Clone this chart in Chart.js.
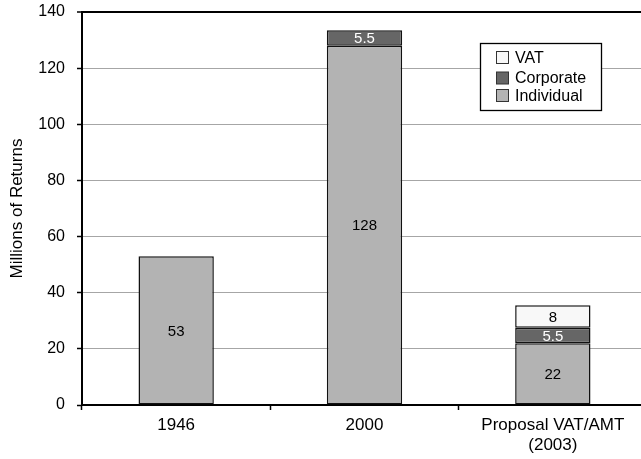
<!DOCTYPE html>
<html>
<head>
<meta charset="utf-8">
<script src="https://cdn.jsdelivr.net/npm/chart.js@4/dist/chart.umd.min.js"></script>
<style>
  html, body { margin: 0; padding: 0; background: #fff; overflow: hidden; }
  #wrap { width: 650px; height: 459px; }
</style>
</head>
<body>
<div id="wrap"><canvas id="c" width="650" height="459"></canvas></div>
<script>
// Number of tax returns filed, in millions
const categories = ['1946', '2000', ['Proposal VAT/AMT', '(2003)']];
const individual = [53, 128, 22];
const corporate = [null, 5.5, 5.5];
const vat = [null, null, 8];
const yTicks = [0, 20, 40, 60, 80, 100, 120, 140];

const FONT = '"Liberation Sans", Arial, Helvetica, sans-serif';

// Values printed in the middle of each segment
const segmentLabels = {
  id: 'segmentLabels',
  afterDatasetsDraw(chart) {
    const ctx = chart.ctx;
    ctx.save();
    ctx.font = '15px ' + FONT;
    ctx.textAlign = 'center';
    ctx.textBaseline = 'middle';
    chart.data.datasets.forEach((ds, di) => {
      const meta = chart.getDatasetMeta(di);
      meta.data.forEach((bar, i) => {
        const v = ds.data[i];
        if (v == null) return;
        const mid = (bar.y + bar.base) / 2;
        ctx.fillStyle = ds.labelColor;
        ctx.fillText(String(v), bar.x, mid + 1);
      });
    });
    ctx.restore();
  }
};

// Boxed legend inside the plot, top series first
const boxLegend = {
  id: 'boxLegend',
  afterDraw(chart) {
    const ctx = chart.ctx;
    const x = 480.5, y = 43.5, w = 121, h = 67;
    ctx.save();
    ctx.fillStyle = '#fff';
    ctx.strokeStyle = '#000';
    ctx.lineWidth = 1.3;
    ctx.fillRect(x, y, w, h);
    ctx.strokeRect(x, y, w, h);
    ctx.font = '16px ' + FONT;
    ctx.textBaseline = 'middle';
    ctx.textAlign = 'left';
    const items = chart.data.datasets.slice().reverse();
    const rows = [57.5, 78, 95.5];
    items.forEach((ds, k) => {
      const cy = rows[k];
      ctx.fillStyle = ds.backgroundColor;
      ctx.fillRect(496.5, cy - 6, 12, 12);
      ctx.lineWidth = 1;
      ctx.strokeStyle = '#333';
      ctx.strokeRect(496.5, cy - 6, 12, 12);
      ctx.fillStyle = '#000';
      ctx.fillText(ds.label, 515, cy + 1);
    });
    ctx.restore();
  }
};

new Chart(document.getElementById('c'), {
  type: 'bar',
  data: {
    labels: categories,
    datasets: [
      { label: 'Individual', data: individual, backgroundColor: '#b3b3b3', labelColor: '#000' },
      { label: 'Corporate', data: corporate, backgroundColor: '#666666', labelColor: '#fff' },
      { label: 'VAT', data: vat, backgroundColor: '#f8f8f8', labelColor: '#000' }
    ]
  },
  options: {
    responsive: false,
    animation: false,
    devicePixelRatio: 1,
    layout: { padding: { top: 12, right: 3, left: 0, bottom: 0 } },
    datasets: {
      bar: {
        borderColor: '#111',
        borderWidth: 1.5,
        borderSkipped: false,
        barPercentage: 0.4,
        categoryPercentage: 1
      }
    },
    plugins: {
      legend: { display: false },
      tooltip: { enabled: false }
    },
    scales: {
      x: {
        stacked: true,
        afterFit(s) {
          s.height = 54;
          s.paddingLeft = 0; s.paddingRight = 0;
        },
        grid: {
          offset: true,
          drawOnChartArea: false,
          tickLength: 5,
          tickColor: '#000',
          tickWidth: 1.5
        },
        border: { color: '#000', width: 2 },
        ticks: {
          color: '#000',
          font: { family: FONT, size: 17, lineHeight: 1.15 },
          padding: 6,
          maxRotation: 0
        }
      },
      y: {
        stacked: true,
        min: 0,
        max: 140,
        afterFit(s) {
          s.width = 82;
          s.paddingTop = 0; s.paddingBottom = 0;
        },
        afterBuildTicks(s) { s.ticks = yTicks.map(v => ({ value: v })); },
        grid: {
          color: ctx => (ctx.tick && ctx.tick.value === 140) ? '#000' : '#a6a6a6',
          lineWidth: ctx => (ctx.tick && ctx.tick.value === 140) ? 2 : 1,
          tickLength: 5,
          tickColor: '#000',
          tickWidth: 1.5
        },
        border: { color: '#000', width: 2 },
        ticks: {
          color: '#000',
          font: { family: FONT, size: 16 },
          padding: 12
        },
        title: {
          display: true,
          text: 'Millions of Returns',
          color: '#000',
          font: { family: FONT, size: 17 },
          padding: { top: 7, bottom: 0 }
        }
      }
    }
  },
  plugins: [segmentLabels, boxLegend]
});
</script>
</body>
</html>
